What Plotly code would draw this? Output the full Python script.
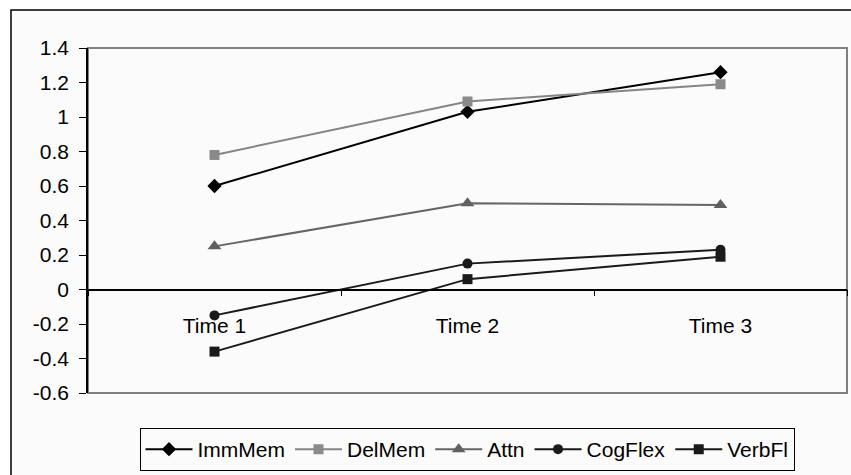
import plotly.graph_objects as go

categories = ["Time 1", "Time 2", "Time 3"]
series_names = ["ImmMem", "DelMem", "Attn", "CogFlex", "VerbFl"]
imm_mem = [0.60, 1.03, 1.26]
del_mem = [0.78, 1.09, 1.19]
attn = [0.25, 0.50, 0.49]
cog_flex = [-0.15, 0.15, 0.23]
verb_fl = [-0.36, 0.06, 0.19]
y_ticks = [-0.6, -0.4, -0.2, 0, 0.2, 0.4, 0.6, 0.8, 1, 1.2, 1.4]

values = [imm_mem, del_mem, attn, cog_flex, verb_fl]
line_colors = ["#000000", "#858585", "#666666", "#1a1a1a", "#1a1a1a"]
marker_colors = ["#000000", "#8a8a8a", "#606060", "#1a1a1a", "#1a1a1a"]
symbols = ["diamond", "square", "triangle-up", "circle", "square"]
sizes = [11, 10, 12, 10, 10]

W, H = 851, 475

fig = go.Figure()
for name, vals, lc, mc, sym, sz in zip(series_names, values, line_colors, marker_colors, symbols, sizes):
    fig.add_trace(go.Scatter(
        x=categories, y=vals, name=name, mode="lines+markers",
        line=dict(color=lc, width=2),
        marker=dict(symbol=sym, size=sz, color=mc, line=dict(width=0)),
    ))

base_font = "Liberation Sans, Arial, sans-serif"

fig.update_layout(
    width=W, height=H,
    margin=dict(l=0, r=0, t=0, b=0, autoexpand=False),
    paper_bgcolor="white",
    plot_bgcolor="rgba(0,0,0,0)",
    font=dict(family=base_font, size=21, color="#000000"),
    showlegend=True,
    legend=dict(
        orientation="h", x=467 / W, xanchor="center", y=(H - 471) / H, yanchor="bottom",
        bordercolor="#000000", borderwidth=1, bgcolor="#fbfbfb",
        font=dict(family=base_font, size=21, color="#000000"),
        itemwidth=47,
    ),
    xaxis=dict(
        type="category", range=[-0.5, 2.5],
        domain=[88 / W, 847 / W],
        anchor="free", position=(H - 393) / H + 0.3 * (345 / H),
        showline=True, linecolor="#000000", linewidth=1.5,
        ticks="outside", ticklen=6, tickcolor="#000000", tickwidth=1,
        tickson="boundaries", showgrid=False, zeroline=False,
        ticklabelstandoff=18, automargin=False,
        tickfont=dict(family=base_font, size=21, color="#000000"),
    ),
    yaxis=dict(
        range=[-0.6, 1.4], tickvals=y_ticks,
        domain=[(H - 393) / H, (H - 48) / H],
        ticktext=[("%g" % v) for v in y_ticks],
        showline=True, linecolor="#000000", linewidth=1.5,
        ticks="outside", ticklen=7, tickcolor="#000000", tickwidth=1,
        showgrid=False, zeroline=False,
        ticklabelstandoff=6, automargin=False,
        tickfont=dict(family=base_font, size=21, color="#000000"),
    ),
    shapes=[
        dict(type="rect", xref="paper", yref="paper",
             x0=11 / W, x1=1.02, y0=-0.02, y1=(H - 10) / H,
             line=dict(color="#000000", width=1.5), fillcolor="#fbfbfb", layer="below"),
        dict(type="rect", xref="x domain", yref="y domain",
             x0=0, x1=1, y0=0, y1=1,
             line=dict(color="#808080", width=2), layer="below"),
    ],
)

fig.write_html(
    "out.html",
    config={"displayModeBar": False},
    post_script="document.body.style.margin='0';document.body.style.padding='0';"
                "document.body.style.overflow='hidden';"
                "document.documentElement.style.overflow='hidden';",
)
